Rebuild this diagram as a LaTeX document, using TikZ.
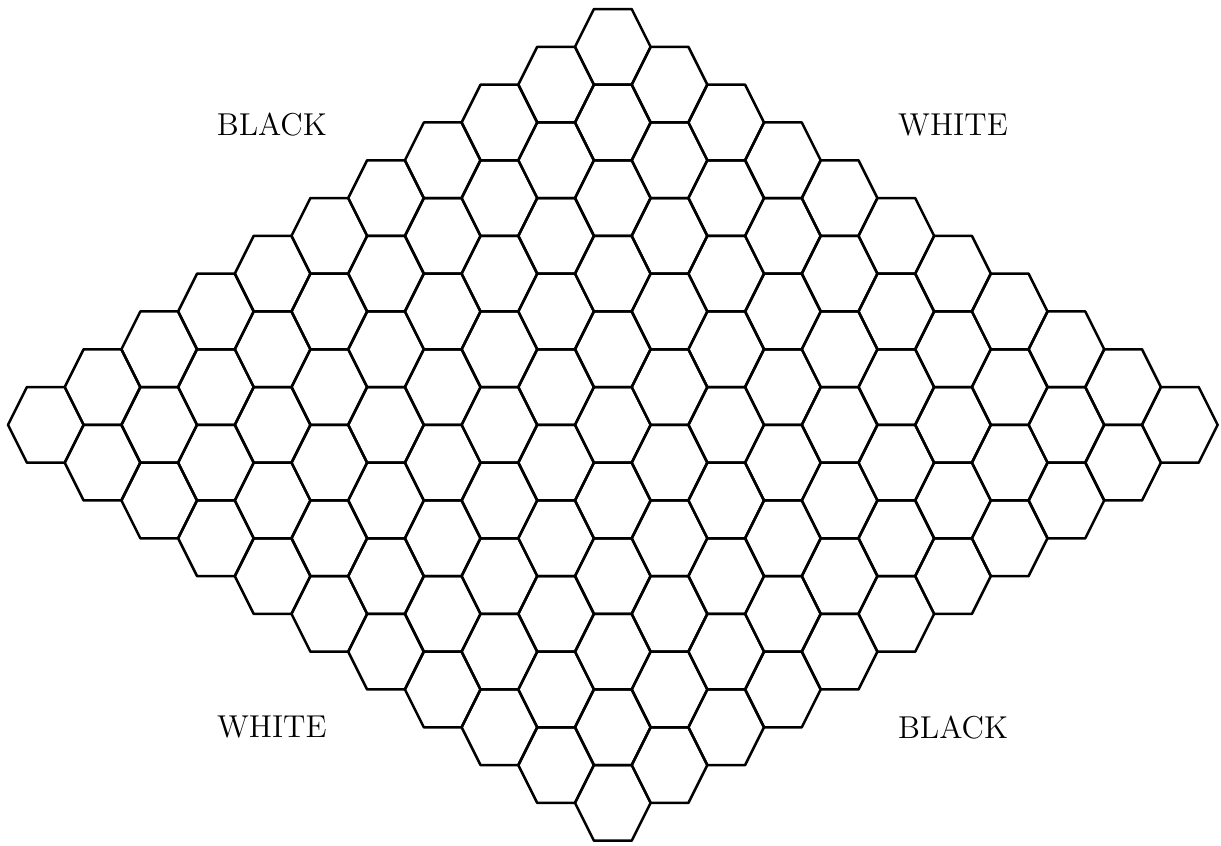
\documentclass[tikz,border=0pt]{standalone}
\begin{document}
\begin{tikzpicture}[x=0.5cm,y=0.5cm,
  hexline/.style={line width=0.95pt,line join=round},
  side/.style={font=\fontsize{11.9}{14}\selectfont,inner sep=0pt}]
\useasboundingbox (-1.212,-11.14) rectangle (31.09,11.24);
\foreach \i in {0,...,10}{
  \foreach \j in {0,...,10}{
    \pgfmathsetmacro{\cx}{1.5*(\i+\j)}
    \pgfmathsetmacro{\cy}{\j-\i}
    \draw[hexline] (\cx+1,\cy) -- (\cx+0.5,\cy+1) -- (\cx-0.5,\cy+1) -- (\cx-1,\cy) -- (\cx-0.5,\cy-1) -- (\cx+0.5,\cy-1) -- cycle;
  }
}
\node[side] (bl1) at (5.98,7.94) {BLACK};
\node[side] (wh1) at (24.0,7.94) {WHITE};
\node[side] (wh2) at (5.98,-7.99) {WHITE};
\node[side] (bl2) at (24.0,-8.0) {BLACK};
\end{tikzpicture}
\end{document}
